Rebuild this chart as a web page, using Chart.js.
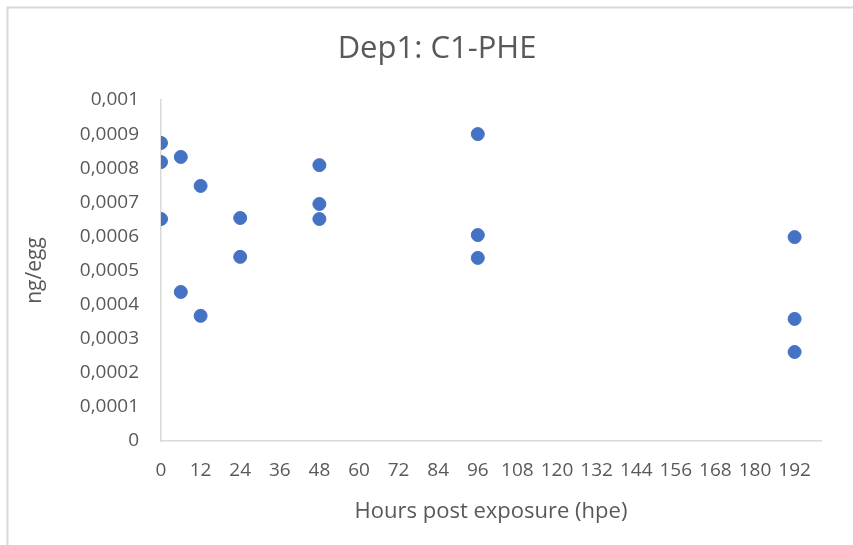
<!DOCTYPE html>
<html>
<head>
<meta charset="utf-8">
<script src="https://cdn.jsdelivr.net/npm/chart.js@4"></script>
<style>
  html, body { margin: 0; padding: 0; background: #fff; }
  #wrap { width: 853px; height: 545px; position: relative; }
</style>
</head>
<body>
<div id="wrap"><canvas id="c" width="853" height="545"></canvas></div>
<script>
const chartTitle = 'Dep1: C1-PHE';
const xAxisTitle = 'Hours post exposure (hpe)';
const yAxisTitle = 'ng/egg';

const hours = [0, 0, 0, 6, 6, 12, 12, 24, 24, 48, 48, 48, 96, 96, 96, 192, 192, 192];
const values = [0.000874, 0.000818, 0.000651, 0.000833, 0.000437, 0.000748, 0.000367,
                0.000654, 0.000540, 0.000809, 0.000695, 0.000651, 0.000900, 0.000604,
                0.000537, 0.000598, 0.000358, 0.000261];

const xTickValues = [0, 12, 24, 36, 48, 60, 72, 84, 96, 108, 120, 132, 144, 156, 168, 180, 192];
const xTickLabels = ['0', '12', '24', '36', '48', '60', '72', '84', '96', '108', '120', '132', '144', '156', '168', '180', '192'];
const yTickValues = [0, 0.0001, 0.0002, 0.0003, 0.0004, 0.0005, 0.0006, 0.0007, 0.0008, 0.0009, 0.001];
const yTickLabels = ['0', '0,0001', '0,0002', '0,0003', '0,0004', '0,0005', '0,0006', '0,0007', '0,0008', '0,0009', '0,001'];

const textColor = '#595959';
const axisColor = '#d9d9d9';
const fontFamily = '"Open Sans", "Noto Sans", sans-serif';

const framePlugin = {
  id: 'frameAndTitle',
  beforeDraw(chart) {
    const ctx = chart.ctx;
    ctx.save();
    ctx.fillStyle = '#fff';
    ctx.fillRect(0, 0, chart.width, chart.height);
    ctx.strokeStyle = axisColor;
    ctx.lineWidth = 2;
    ctx.strokeRect(7.5, 7.5, 1000, 1000);
    ctx.restore();
  },
  afterDraw(chart) {
    const ctx = chart.ctx;
    ctx.save();
    ctx.fillStyle = textColor;
    ctx.font = '31px ' + fontFamily;
    ctx.textAlign = 'center';
    ctx.textBaseline = 'middle';
    ctx.fillText(chartTitle, 437, 49);
    ctx.restore();
  }
};

new Chart(document.getElementById('c'), {
  type: 'scatter',
  data: {
    datasets: [{
      data: hours.map((h, i) => ({ x: h, y: values[i] })),
      backgroundColor: '#4472C4',
      borderColor: '#4472C4',
      borderWidth: 1,
      pointRadius: 6.5,
      pointHoverRadius: 6.5
    }]
  },
  options: {
    responsive: false,
    animation: false,
    events: [],
    layout: { padding: { left: 0, right: 32, top: 100, bottom: 0 } },
    plugins: {
      legend: { display: false },
      tooltip: { enabled: false },
      title: { display: false }
    },
    scales: {
      x: {
        type: 'linear',
        min: 0,
        max: 200,
        grid: { display: false, drawTicks: false },
        border: { display: true, color: axisColor, width: 1.5 },
        afterBuildTicks(scale) { scale.ticks = xTickValues.map(v => ({ value: v })); },
        afterFit(scale) { scale.height = 104; },
        ticks: {
          autoSkip: false,
          maxRotation: 0,
          minRotation: 0,
          padding: 18,
          color: textColor,
          font: { family: fontFamily, size: 19 },
          callback: (v, i) => xTickLabels[i]
        },
        title: {
          display: true,
          text: xAxisTitle,
          color: textColor,
          font: { family: fontFamily, size: 22, lineHeight: 1.2 },
          padding: { top: 0, bottom: 20 }
        }
      },
      y: {
        type: 'linear',
        min: 0,
        max: 0.001,
        grid: { display: false, drawTicks: false },
        border: { display: true, color: axisColor, width: 1.5 },
        afterBuildTicks(scale) { scale.ticks = yTickValues.map(v => ({ value: v })); },
        afterFit(scale) { scale.width = 161; },
        ticks: {
          padding: 22,
          color: textColor,
          font: { family: fontFamily, size: 19 },
          callback: (v, i) => yTickLabels[i]
        },
        title: {
          display: true,
          text: yAxisTitle,
          color: textColor,
          font: { family: fontFamily, size: 21, lineHeight: 1.2 },
          padding: { top: 22, bottom: 0 }
        }
      }
    }
  },
  plugins: [framePlugin]
});
</script>
</body>
</html>
